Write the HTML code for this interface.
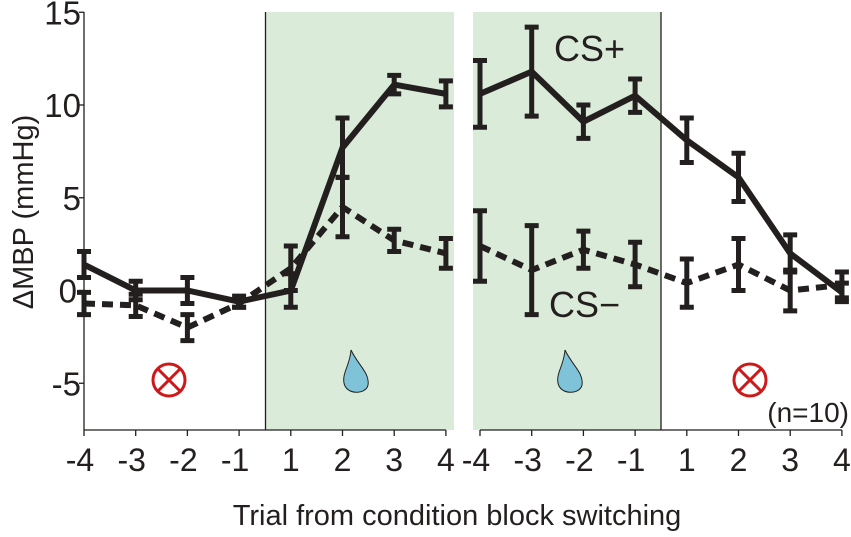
<!DOCTYPE html>
<html><head><meta charset="utf-8"><style>
body{margin:0;background:#fff}
svg text{font-family:"Liberation Sans",Arial,sans-serif;fill:#231f1e}
</style></head><body>
<svg id="c" width="851" height="532" viewBox="0 0 851 532">
<g id="bg"></g><g id="axes"></g><g id="series"></g><g id="labels"></g>
</svg>
<script>
const xLabels=[-4,-3,-2,-1,1,2,3,4];
const csPlusL=[1.4,0,0,-0.6,0,7.7,11.1,10.6];
const csPlusLErr=[0.7,0.5,0.7,0.3,0.9,1.6,0.5,0.7];
const csPlusR=[10.6,11.8,9.1,10.5,8.1,6.1,2.0,-0.1];
const csPlusRErr=[1.8,2.4,0.9,0.9,1.2,1.3,1.0,0.5];
const csMinusL=[-0.7,-0.8,-2.0,-0.7,1.2,4.5,2.7,2.0];
const csMinusLErr=[0.6,0.6,0.7,0.2,1.2,1.6,0.6,0.8];
const csMinusR=[2.4,1.1,2.2,1.4,0.4,1.4,0.0,0.3];
const csMinusRErr=[1.9,2.4,1.0,1.2,1.3,1.4,1.1,0.7];
const yTicks=[15,10,5,0,-5];

const NS="http://www.w3.org/2000/svg";
function mk(parent,tag,attrs,txt){const e=document.createElementNS(NS,tag);for(const k in attrs)e.setAttribute(k,attrs[k]);if(txt!==undefined)e.textContent=txt;document.getElementById(parent).appendChild(e);return e;}
const Y=v=>290.5-v*18.55;
const step=51.7;
const XL=i=>84+i*step;
const XR=i=>480+i*step;

let e;
e=mk('bg','rect',{x:265,y:12,width:189,height:418,fill:'#dbebd9'});


e=mk('bg','rect',{x:473,y:12,width:188,height:418,fill:'#dbebd9'});


mk('bg','line',{x1:265.5,y1:12,x2:265.5,y2:430,stroke:'#231f1e','stroke-width':1.3});
mk('bg','line',{x1:661,y1:12,x2:661,y2:430,stroke:'#231f1e','stroke-width':1.3});

e=mk('axes','line',{x1:84,y1:12,x2:84,y2:430,stroke:'#231f1e','stroke-width':1.3});


yTicks.forEach(t=>{
 mk('axes','line',{x1:79,y1:Y(t),x2:84,y2:Y(t),stroke:'#231f1e','stroke-width':1.3});
 const tx=mk('axes','text',{x:t===0?77:81,y:Y(t)+12,'text-anchor':'end','font-size':33},String(t));
 
 
});
[[XL,'left'],[XR,'right']].forEach(([X,side])=>{
 const a=mk('axes','line',{x1:X(0),y1:430,x2:X(7),y2:430,stroke:'#231f1e','stroke-width':1.3});
 
 
 xLabels.forEach((l,i)=>{
  mk('axes','line',{x1:X(i),y1:430,x2:X(i),y2:436,stroke:'#231f1e','stroke-width':1.3});
  const tx=mk('axes','text',{x:X(i)-(l<0?4:0),y:471,'text-anchor':'middle','font-size':32},String(l));
  
  
 });
});

function series(vals,errs,X,dashed,name){
 const pts=vals.map((v,i)=>X(i)+','+Y(v)).join(' ');
 const p=mk('series','polyline',{points:pts,fill:'none',stroke:'#231f1e','stroke-width':6,'stroke-dasharray':dashed?'11 7':'none'});
 
 
 vals.forEach((v,i)=>{
  const x=X(i),y1=Y(v+errs[i]),y2=Y(v-errs[i]);
  const g=mk('series','path',{d:`M${x},${y1}V${y2}M${x-7},${y1}H${x+7}M${x-7},${y2}H${x+7}`,stroke:'#231f1e','stroke-width':5,fill:'none'});
  
  
 });
}
series(csMinusL,csMinusLErr,XL,true,'cs-minus-left');
series(csMinusR,csMinusRErr,XR,true,'cs-minus-right');
series(csPlusL,csPlusLErr,XL,false,'cs-plus-left');
series(csPlusR,csPlusRErr,XR,false,'cs-plus-right');

[[169,380],[750,380]].forEach(([cx,cy])=>{
 mk('labels','path',{d:`M${cx-11},${cy-11}L${cx+11},${cy+11}M${cx+11},${cy-11}L${cx-11},${cy+11}`,stroke:'#cc1a1a','stroke-width':3,fill:'none'});
 const c=mk('labels','circle',{cx:cx,cy:cy,r:16,stroke:'#cc1a1a','stroke-width':3,fill:'none'});
 
 
});
[[356,375],[570,375]].forEach(([cx,cy])=>{
 const d=mk('labels','path',{d:`M${cx-5},${cy-25} C${cx+2},${cy-10} ${cx+14},${cy-2} ${cx+12},${cy+10} C${cx+10},${cy+20} ${cx-10},${cy+20} ${cx-12},${cy+8} C${cx-14},${cy-2} ${cx-6},${cy-10} ${cx-5},${cy-25}Z`,fill:'#7fc3d9',stroke:'#231f1e','stroke-width':1});
 
 
});

e=mk('labels','text',{x:554,y:61,'font-size':36},'CS+');


e=mk('labels','text',{x:549,y:317,'font-size':36},'CS\u2212');


e=mk('labels','text',{x:849,y:422,'text-anchor':'end','font-size':28},'(n=10)');


e=mk('labels','text',{x:457,y:525,'text-anchor':'middle','font-size':29},'Trial from condition block switching');


e=mk('labels','text',{x:0,y:0,'text-anchor':'middle','font-size':29,transform:'translate(33,212) rotate(-90)'},'\u0394MBP (mmHg)');


</script>
</body></html>
